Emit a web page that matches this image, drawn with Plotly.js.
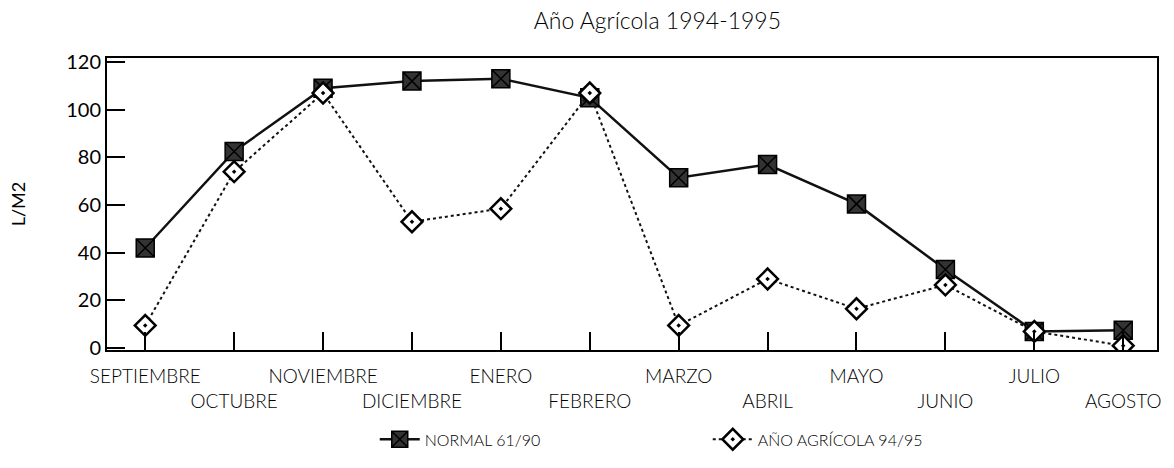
<!DOCTYPE html>
<html>
<head>
<meta charset="utf-8">
<script src="https://cdn.plot.ly/plotly-3.0.1.min.js"></script>
<style>html,body{margin:0;padding:0;background:#fff;}#chart{width:1174px;height:468px;}</style>
</head>
<body>
<div id="chart"></div>
<script>
const months = ["SEPTIEMBRE","OCTUBRE","NOVIEMBRE","DICIEMBRE","ENERO","FEBRERO","MARZO","ABRIL","MAYO","JUNIO","JULIO","AGOSTO"];
const normal6190 = [42, 82.5, 109, 112, 113, 105, 71.5, 77, 60.5, 33, 7, 7.5];
const agricola9495 = [9.5, 74, 107, 53, 58.5, 107, 9.5, 29, 16.5, 26.5, 7, 1];
const yTicks = [0, 20, 40, 60, 80, 100, 120];

const idx = months.map((m, i) => i);
const tickText = months.map((m, i) => (i % 2 === 0 ? m : "<br>" + m));

const FONT = "Lato, 'Open Sans', sans-serif";

const traces = [
  {
    x: idx, y: normal6190, name: "NORMAL 61/90", type: "scatter", mode: "lines+markers",
    line: {color: "#111", width: 2.5},
    marker: {symbol: "square-x", size: 18, color: "#333", line: {color: "#000", width: 1.5}}
  },
  {
    x: idx, y: agricola9495, name: "AÑO AGRÍCOLA 94/95", type: "scatter", mode: "lines+markers",
    line: {color: "#111", width: 2, dash: "dot"},
    marker: {symbol: "diamond-dot", size: 16, color: "#fff", line: {color: "#000", width: 2.5}}
  }
];

const layout = {
  width: 1174, height: 468,
  margin: {l: 107, r: 17, t: 58, b: 116},
  paper_bgcolor: "#fff", plot_bgcolor: "#fff",
  font: {family: FONT, color: "#000", size: 16},
  title: {text: "Año Agrícola 1994-1995", x: 0.56, xanchor: "center", y: 0.955, yanchor: "middle", font: {size: 23, family: FONT, color: "#000", weight: 300}},
  xaxis: {
    range: [-0.43, 11.38], tickmode: "array", tickvals: idx, ticktext: tickText, tickangle: 0,
    showgrid: false, zeroline: false, showline: true, linecolor: "#000", linewidth: 2, mirror: true,
    ticks: "inside", ticklen: 18, tickwidth: 2, tickcolor: "#000", ticklabelstandoff: 8,
    tickfont: {size: 19, family: FONT, color: "#000", weight: 300}
  },
  yaxis: {
    range: [-0.8, 121.7], tickmode: "array", tickvals: yTicks,
    showgrid: false, zeroline: false, showline: true, linecolor: "#000", linewidth: 2, mirror: true,
    ticks: "inside", ticklen: 18, tickwidth: 2, tickcolor: "#000",
    tickfont: {size: 20, family: FONT, color: "#000"},
    title: {text: "L/M2", font: {size: 18, family: FONT, color: "#000"}, standoff: 36}
  },
  showlegend: true,
  legend: {
    orientation: "h", x: 0.255, xanchor: "left", y: -0.306, yanchor: "middle",
    font: {size: 16, family: FONT, color: "#000", weight: 300}, entrywidth: 278, itemwidth: 40
  }
};

Plotly.newPlot("chart", traces, layout, {displayModeBar: false, staticPlot: true});
</script>
</body>
</html>
